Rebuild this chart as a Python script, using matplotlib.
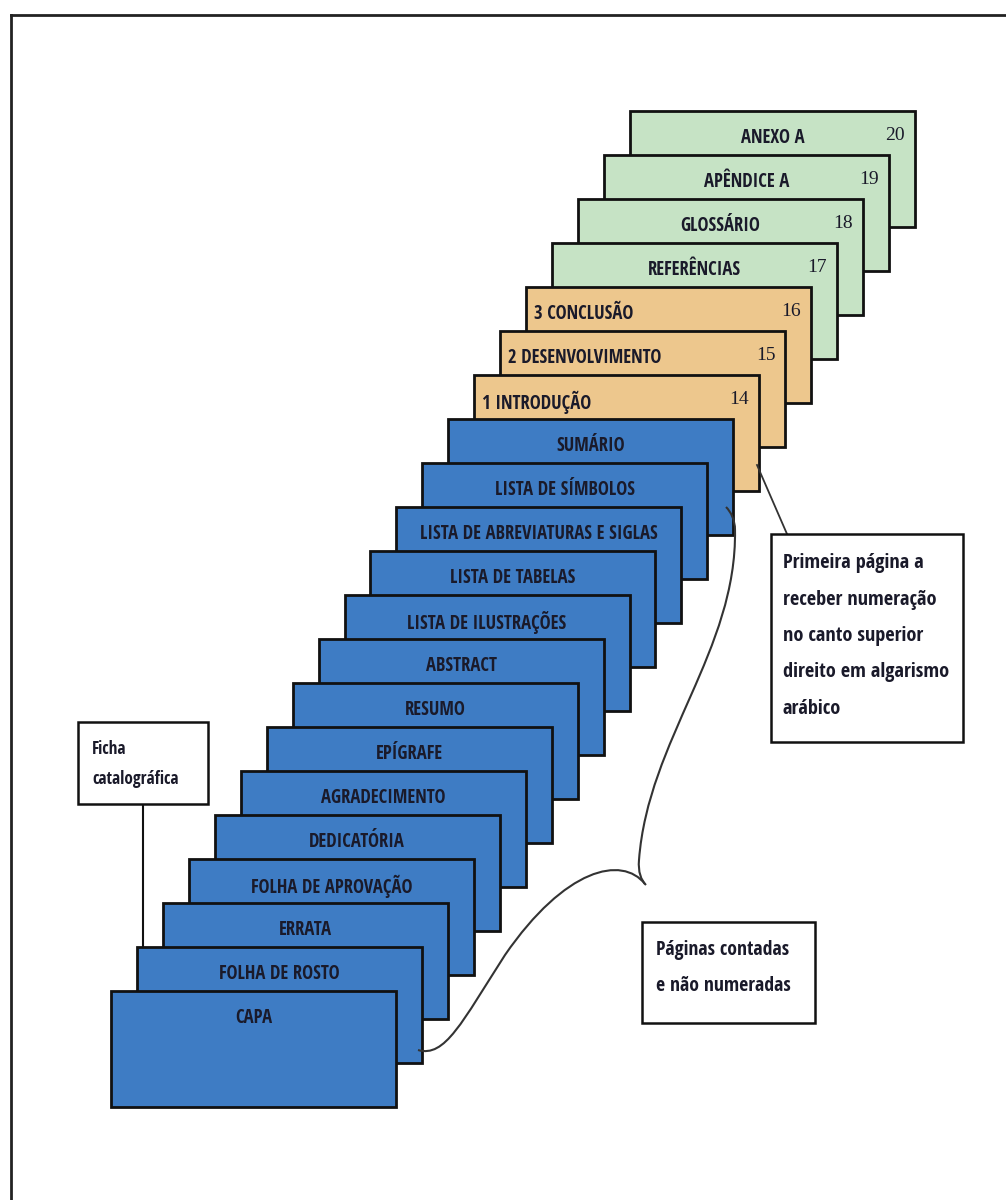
import time
import numpy as np
import matplotlib.pyplot as plt
from matplotlib import font_manager as fm
from matplotlib.textpath import TextPath
from matplotlib.patches import Rectangle, PathPatch
from matplotlib.path import Path

# page titles, front (CAPA) to back (ANEXO A)
pre_text = ["CAPA", "FOLHA DE ROSTO", "ERRATA", "FOLHA DE APROVAÇÃO",
            "DEDICATÓRIA", "AGRADECIMENTO", "EPÍGRAFE", "RESUMO", "ABSTRACT",
            "LISTA DE ILUSTRAÇÕES", "LISTA DE TABELAS",
            "LISTA DE ABREVIATURAS E SIGLAS", "LISTA DE SÍMBOLOS", "SUMÁRIO"]
text_pages = ["1 INTRODUÇÃO", "2 DESENVOLVIMENTO", "3 CONCLUSÃO"]
post_text = ["REFERÊNCIAS", "GLOSSÁRIO", "APÊNDICE A", "ANEXO A"]
page_numbers = [14, 15, 16, 17, 18, 19, 20]

note_ficha = ["Ficha", "catalográfica"]
note_first = ["Primeira página a", "receber numeração", "no canto superior",
              "direito em algarismo", "arábico"]
note_counted = ["Páginas contadas", "e não numeradas"]

colors = {"pre": "#3E7CC4", "text": "#EDC78D", "post": "#C6E3C5"}
ink = "#1a1a2a"
DPI = 100

FAMILIES = ("Liberation Sans", "DejaVu Sans", "Noto Sans", "Roboto",
            "Open Sans", "Lato", "Inter")


def bold_sans_files():
    files = []
    for f in fm.fontManager.ttflist:
        if f.style != "normal" or not f.name.startswith(FAMILIES):
            continue
        if any(k in f.name for k in ("Mono", "CJK", "Display", "Math")):
            continue
        if f.name.startswith("Noto Sans") and not (
                f.name == "Noto Sans" or "Condensed" in f.name):
            continue
        try:
            wt = int(f.weight)
        except ValueError:
            wt = 700 if "bold" in str(f.weight) else 400
        if wt < 600 or wt > 800:
            continue
        if f.fname not in files:
            files.append(f.fname)
    return files[:40]


CANDIDATES = bold_sans_files()
_shape = {}


def shape(fname, sample):
    key = (fname, sample)
    if key not in _shape:
        p = fm.FontProperties(fname=fname, size=100)
        wd = TextPath((0, 0), sample, prop=p).get_extents().width
        ch = TextPath((0, 0), "H", prop=p).get_extents().height
        _shape[key] = (wd, ch)
    return _shape[key]


def sized_font(sample, width_px, cap_px):
    """Pick the bold sans whose proportions best match the sample text,
    then size it to that box."""
    target = width_px / cap_px
    best = None
    t0 = time.time()
    for fname in CANDIDATES:
        if time.time() - t0 > 10:
            break
        try:
            wd, ch = shape(fname, sample)
        except Exception:
            continue
        if wd <= 0 or ch <= 0:
            continue
        err = abs(np.log(wd / ch / target))
        if best is None or err < best[0]:
            best = (err, fname, wd, ch)
    if best is None:
        return fm.FontProperties(family="DejaVu Sans", weight="bold",
                                 size=width_px * 72 / DPI / len(sample) / 0.6)
    _, fname, wd, ch = best
    s_w = width_px * 72 / DPI * 100 / wd
    s_c = cap_px * 72 / DPI * 100 / ch
    return fm.FontProperties(fname=fname, size=min(s_w, np.sqrt(s_w * s_c)))


label_prop = sized_font("LISTA DE ABREVIATURAS E SIGLAS", 236, 13.3)
first_prop = sized_font("direito em algarismo", 164, 17.5)
counted_prop = sized_font("Páginas contadas", 131, 17.0)
ficha_prop = sized_font("catalográfica", 84, 14.0)
num_prop = fm.FontProperties(family=["Liberation Serif", "DejaVu Serif"], size=14)

fig = plt.figure(figsize=(10.06, 12.0), dpi=DPI)
ax = fig.add_axes([0, 0, 1, 1])
ax.set_xlim(0, 1006)
ax.set_ylim(1200, 0)
ax.axis("off")

# outer frame (only top and left edges visible)
ax.plot([11, 1006], [15, 15], color="#222222", lw=2)
ax.plot([11, 11], [15, 1200], color="#222222", lw=2)

pages = ([(t, "pre") for t in pre_text] + [(t, "text") for t in text_pages]
         + [(t, "post") for t in post_text])

x0, y0 = 111, 991
dx, dy = 25.95, -44.0
w, h = 285, 116
n_pre = len(pre_text)

for i, (title, kind) in enumerate(pages):
    left = x0 + dx * i
    top = y0 + dy * i
    z = 100 - i
    ax.add_patch(Rectangle((left, top), w, h, facecolor=colors[kind],
                           edgecolor="#111111", lw=2, zorder=z))
    if kind == "text":
        ax.text(left + 8, top + 27, title, ha="left", va="center",
                fontproperties=label_prop, color=ink, zorder=z)
    else:
        ax.text(left + w / 2, top + 27, title, ha="center", va="center",
                fontproperties=label_prop, color=ink, zorder=z)
    if i >= n_pre:
        ax.text(left + w - 10, top + 24, str(page_numbers[i - n_pre]),
                ha="right", va="center", fontproperties=num_prop,
                color=ink, zorder=z)

# callout: ficha catalografica
ax.add_patch(Rectangle((78, 722), 130, 82, facecolor="white",
                       edgecolor="#111111", lw=1.8, zorder=120))
for k, line in enumerate(note_ficha):
    ax.text(92, 749 + 30 * k, line, ha="left", va="center",
            fontproperties=ficha_prop, color=ink, zorder=121)
ax.plot([143, 143], [804, 948], color="#111111", lw=1.5, zorder=10)

# callout: first numbered page
ax.add_patch(Rectangle((771, 534), 192, 208, facecolor="white",
                       edgecolor="#111111", lw=1.8, zorder=120))
for k, line in enumerate(note_first):
    ax.text(783, 563 + 36.5 * k, line, ha="left", va="center",
            fontproperties=first_prop, color=ink, zorder=121)
ax.plot([757, 787], [465, 534], color="#333333", lw=1.3, zorder=119)

# callout: counted pages
ax.add_patch(Rectangle((642, 922), 173, 101, facecolor="white",
                       edgecolor="#111111", lw=1.8, zorder=120))
for k, line in enumerate(note_counted):
    ax.text(656, 950 + 36 * k, line, ha="left", va="center",
            fontproperties=counted_prop, color=ink, zorder=121)

# curly brace over the unnumbered pages
verts = [(726, 507), (731, 512), (735, 520), (735, 530),
         (737, 650), (648, 740), (639, 860),
         (638, 872), (641, 880), (646, 885)]
codes = [Path.MOVETO] + [Path.CURVE4] * 9
ax.add_patch(PathPatch(Path(verts, codes), facecolor="none",
                       edgecolor="#333333", lw=1.5, zorder=130))
verts2 = [(645, 884), (622, 855), (565, 868), (505, 955),
          (462, 1022), (445, 1058), (418, 1050)]
codes2 = [Path.MOVETO] + [Path.CURVE4] * 6
ax.add_patch(PathPatch(Path(verts2, codes2), facecolor="none",
                       edgecolor="#333333", lw=1.5, zorder=130))

plt.savefig("out.png", dpi=DPI)
